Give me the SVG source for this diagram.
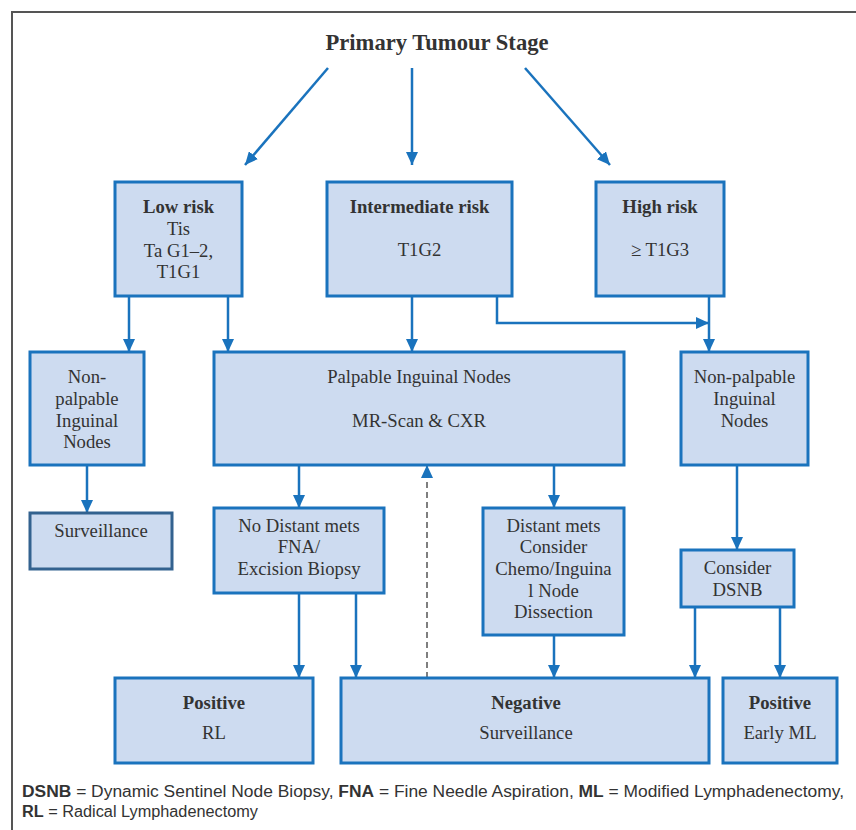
<svg xmlns="http://www.w3.org/2000/svg" width="856" height="830" viewBox="0 0 856 830">
<defs>
<marker id="ah" markerUnits="userSpaceOnUse" markerWidth="13" markerHeight="12" refX="13" refY="6" orient="auto">
<path d="M0,0 L13,6 L0,12 z" fill="#1a73bd"/>
</marker>
<style>
.box{fill:#cddbf0;stroke:#1a73bd;stroke-width:3}
.box2{fill:#cddbf0;stroke:#33628f;stroke-width:3}
.t{font-family:"Liberation Serif","Times New Roman",serif;font-size:18.7px;fill:#333;text-anchor:middle}
.b{font-weight:bold}
.c{fill:none;stroke:#1a73bd;stroke-width:2.5;marker-end:url(#ah)}
.d{fill:none;stroke:#555;stroke-width:1.5;stroke-dasharray:6,4;marker-end:url(#ah)}
.f{font-family:"Liberation Sans",Arial,sans-serif;font-size:16px;fill:#333}
</style>
</defs>
<rect width="856" height="830" fill="#fff"/>
<path d="M12,830 V12 H856" fill="none" stroke="#555" stroke-width="2"/>
<g id="title">
<text x="437" y="50" class="t b" style="font-size:22.6px">Primary Tumour Stage</text>
</g>
<g id="connectors">
<path class="c" d="M328,68 L245,165"/>
<path class="c" d="M412,68 L412,165"/>
<path class="c" d="M525,68 L610,165"/>
<path class="c" d="M129,296 V352"/>
<path class="c" d="M228,296 V352"/>
<path class="c" d="M412,296 V352"/>
<path class="c" d="M497,296 V323 H709"/>
<path class="c" d="M709,296 V352"/>
<path class="c" d="M87,465 V513"/>
<path class="c" d="M299,465 V508"/>
<path class="c" d="M554,465 V508"/>
<path class="c" d="M737,465 V550"/>
<path class="c" d="M299,593 V678"/>
<path class="c" d="M356,593 V678"/>
<path class="c" d="M554,635 V678"/>
<path class="c" d="M695,607 V678"/>
<path class="c" d="M780,607 V678"/>
<path class="d" d="M427,678 V465"/>
</g>
<g id="low-risk">
<rect class="box" x="115" y="182" width="127" height="114"/>
<text class="t b" x="178.5" y="213">Low risk</text>
<text class="t" x="178.5" y="235">Tis</text>
<text class="t" x="178.5" y="257">Ta G1–2,</text>
<text class="t" x="178.5" y="278">T1G1</text>
</g>
<g id="intermediate-risk">
<rect class="box" x="327" y="182" width="185" height="114"/>
<text class="t b" x="419.5" y="213">Intermediate risk</text>
<text class="t" x="419.5" y="256">T1G2</text>
</g>
<g id="high-risk">
<rect class="box" x="596" y="182" width="128" height="114"/>
<text class="t b" x="660" y="213">High risk</text>
<text class="t" x="660" y="256">≥ T1G3</text>
</g>
<g id="nonpalpable-left">
<rect class="box" x="30" y="352" width="114" height="113"/>
<text class="t" x="87" y="383">Non-</text>
<text class="t" x="87" y="405">palpable</text>
<text class="t" x="87" y="427">Inguinal</text>
<text class="t" x="87" y="448">Nodes</text>
</g>
<g id="palpable">
<rect class="box" x="214" y="352" width="410" height="113"/>
<text class="t" x="419" y="383">Palpable Inguinal Nodes</text>
<text class="t" x="419" y="427">MR-Scan &amp; CXR</text>
</g>
<g id="nonpalpable-right">
<rect class="box" x="681" y="352" width="127" height="113"/>
<text class="t" x="744.5" y="383">Non-palpable</text>
<text class="t" x="744.5" y="405">Inguinal</text>
<text class="t" x="744.5" y="427">Nodes</text>
</g>
<g id="surveillance-left">
<rect class="box2" x="30" y="513" width="142" height="56"/>
<text class="t" x="101" y="537">Surveillance</text>
</g>
<g id="no-distant-mets">
<rect class="box" x="214" y="508" width="170" height="85"/>
<text class="t" x="299" y="532">No Distant mets</text>
<text class="t" x="299" y="553">FNA/</text>
<text class="t" x="299" y="575">Excision Biopsy</text>
</g>
<g id="distant-mets">
<rect class="box" x="483" y="508" width="141" height="127"/>
<text class="t" x="553.5" y="532">Distant mets</text>
<text class="t" x="553.5" y="553">Consider</text>
<text class="t" x="553.5" y="575">Chemo/Inguina</text>
<text class="t" x="553.5" y="597">l Node</text>
<text class="t" x="553.5" y="618">Dissection</text>
</g>
<g id="consider-dsnb">
<rect class="box" x="681" y="550" width="113" height="57"/>
<text class="t" x="737.5" y="574">Consider</text>
<text class="t" x="737.5" y="596">DSNB</text>
</g>
<g id="positive-rl">
<rect class="box" x="115" y="678" width="198" height="85"/>
<text class="t b" x="214" y="709">Positive</text>
<text class="t" x="214" y="739">RL</text>
</g>
<g id="negative">
<rect class="box" x="341" y="678" width="368" height="85"/>
<text class="t b" x="526" y="709">Negative</text>
<text class="t" x="526" y="739">Surveillance</text>
</g>
<g id="positive-ml">
<rect class="box" x="723" y="678" width="114" height="85"/>
<text class="t b" x="780" y="709">Positive</text>
<text class="t" x="780" y="739">Early ML</text>
</g>
<g id="footnote">
<text class="f" x="22" y="797" textLength="822" lengthAdjust="spacingAndGlyphs"><tspan font-weight="bold">DSNB</tspan> = Dynamic Sentinel Node Biopsy, <tspan font-weight="bold">FNA</tspan> = Fine Needle Aspiration, <tspan font-weight="bold">ML</tspan> = Modified Lymphadenectomy,</text>
<text class="f" x="22" y="817" textLength="236" lengthAdjust="spacingAndGlyphs"><tspan font-weight="bold">RL</tspan> = Radical Lymphadenectomy</text>
</g>
</svg>
